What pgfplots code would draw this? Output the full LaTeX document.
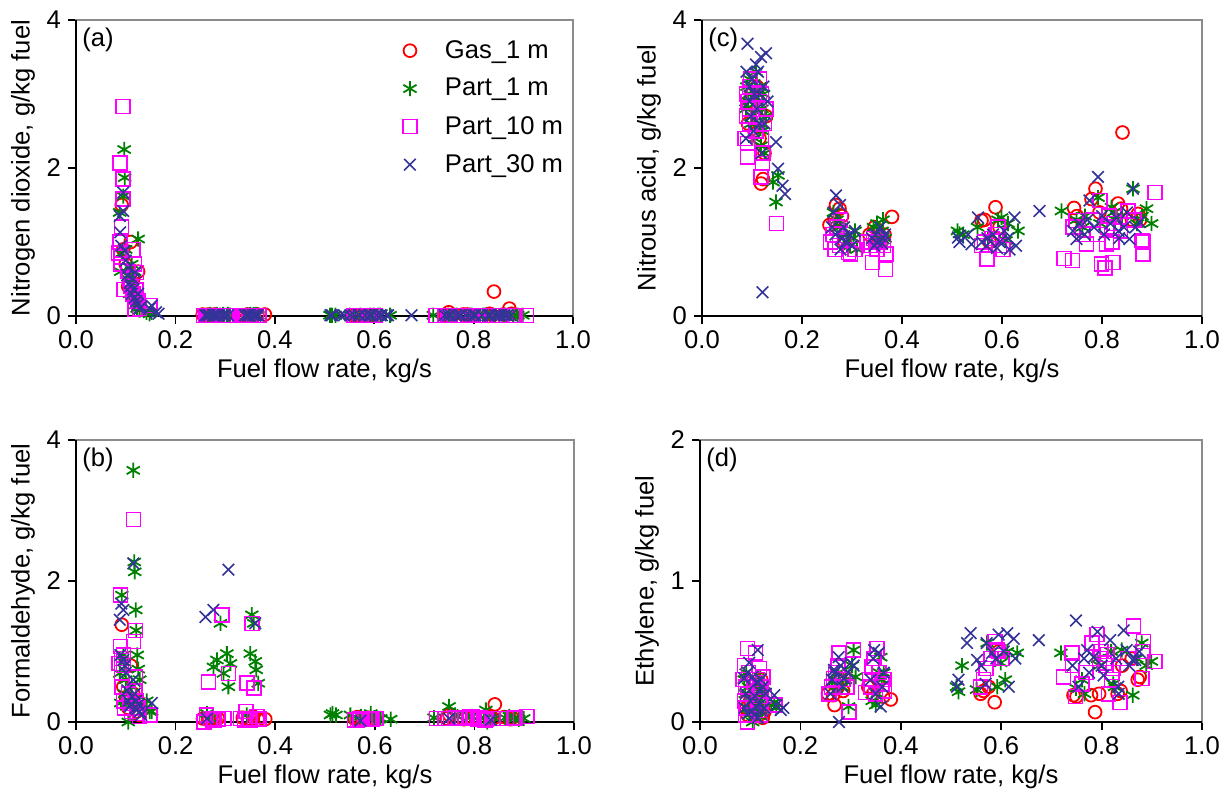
\documentclass[border=0pt]{standalone}
\usepackage{fontspec}
\setmainfont{Liberation Sans}
\usepackage{pgfplots}
\usepackage{pgfplotstable}
\pgfplotsset{compat=1.18}
\definecolor{cgas}{RGB}{255,0,0}
\definecolor{cp1}{RGB}{0,128,0}
\definecolor{cp10}{RGB}{255,0,255}
\definecolor{cp30}{RGB}{51,51,153}
\definecolor{cbox}{RGB}{140,140,140}

% columns: x = fuel flow rate; a = NO2; b = HCHO; c = HONO; d = C2H4
\pgfplotstableread{
x a b c d
0.092 1.50 1.38 2.60 0.10
0.095 0.90 0.50 2.90 0.05
0.100 0.70 0.35 3.00 0.15
0.105 0.40 0.20 2.50 0.08
0.110 1.00 0.80 3.10 0.20
0.115 0.50 0.40 2.40 0.12
0.118 0.30 0.25 1.79 0.05
0.122 0.20 0.15 1.85 0.30
0.125 0.60 0.30 2.20 0.03
0.128 0.15 0.10 2.70 0.07
0.255 0.02 0.05 1.23 0.20
0.265 0.01 0.03 1.30 0.19
0.268 0.02 0.02 1.50 0.12
0.275 0.01 0.04 1.45 0.25
0.280 0.02 0.03 1.35 0.30
0.285 0.01 0.05 1.00 0.22
0.335 0.01 0.06 1.10 0.25
0.345 0.02 0.05 1.20 0.20
0.355 0.01 0.08 1.00 0.30
0.365 0.02 0.04 1.10 0.18
0.380 0.02 0.04 1.34 0.16
0.559 0.01 0.05 1.29 0.20
0.565 0.01 0.07 1.30 0.22
0.575 0.01 0.04 1.00 0.25
0.587 0.01 0.06 1.47 0.14
0.595 0.01 0.05 1.20 0.50
0.744 0.01 0.05 1.46 0.19
0.750 0.05 0.10 1.35 0.18
0.779 0.02 0.04 1.58 0.19
0.787 0.02 0.05 1.72 0.07
0.795 0.01 0.06 1.40 0.20
0.832 0.03 0.08 1.52 0.20
0.838 0.01 0.05 1.45 0.22
0.841 0.33 0.25 2.48 0.40
0.860 0.02 0.07 1.30 0.45
0.872 0.10 0.04 1.38 0.30
0.876 0.03 0.06 1.30 0.32
}\gasdata

\pgfplotstableread{
x a b c d
0.088 1.40 0.69 2.80 0.30
0.090 0.60 0.27 3.10 0.20
0.092 0.85 1.80 2.90 0.35
0.095 1.62 0.95 3.20 0.10
0.097 2.25 0.85 3.00 0.25
0.098 1.87 0.40 2.60 0.05
0.100 0.90 0.60 2.70 0.18
0.105 0.50 0.00 2.40 0.00
0.108 0.30 0.30 3.30 0.12
0.112 0.70 0.50 2.90 0.28
0.115 0.40 3.57 3.10 0.08
0.117 0.20 2.27 2.60 0.22
0.118 0.60 2.13 2.30 0.15
0.120 0.15 1.59 2.80 0.32
0.121 0.30 1.30 2.50 0.04
0.123 0.10 0.95 3.00 0.20
0.125 1.04 0.75 2.20 0.10
0.128 0.08 0.60 2.70 0.26
0.142 0.05 0.30 1.81 0.12
0.148 0.03 0.15 1.54 0.14
0.152 0.05 0.15 1.90 0.10
0.263 0.01 0.12 1.40 0.28
0.270 0.02 0.05 1.30 0.22
0.276 0.01 0.78 1.20 0.35
0.283 0.02 0.88 1.10 0.25
0.290 0.01 1.40 1.00 0.30
0.296 0.02 0.69 0.95 0.11
0.303 0.01 0.97 1.05 0.40
0.306 0.02 0.50 1.15 0.51
0.310 0.01 0.83 0.90 0.32
0.343 0.01 0.10 1.20 0.15
0.350 0.02 0.97 1.25 0.12
0.353 0.01 1.52 1.10 0.20
0.357 0.02 1.40 1.00 0.35
0.360 0.01 0.86 1.15 0.46
0.362 0.02 0.74 1.30 0.30
0.366 0.01 0.55 1.05 0.35
0.511 0.01 0.10 1.15 0.25
0.515 0.01 0.12 1.11 0.215
0.522 0.01 0.10 1.10 0.40
0.551 0.01 0.10 1.20 0.23
0.572 0.01 0.08 1.05 0.56
0.592 0.01 0.12 1.30 0.25
0.599 0.01 0.06 1.33 0.42
0.608 0.01 0.05 1.02 0.30
0.612 0.01 0.05 1.25 0.50
0.632 0.01 0.04 1.15 0.49
0.719 0.01 0.06 1.42 0.49
0.749 0.01 0.22 1.30 0.24
0.761 0.01 0.10 1.20 0.30
0.766 0.01 0.08 1.35 0.20
0.792 0.01 0.08 1.60 0.45
0.796 0.01 0.08 1.25 0.40
0.819 0.01 0.06 1.47 0.50
0.823 0.01 0.17 1.40 0.27
0.826 0.01 0.00 1.30 0.25
0.840 0.01 0.05 1.35 0.51
0.862 0.01 0.06 1.72 0.19
0.870 0.01 0.08 1.25 0.45
0.880 0.01 0.05 1.35 0.56
0.889 0.01 0.04 1.45 0.40
0.899 0.01 0.05 1.25 0.43
}\ponedata

\pgfplotstableread{
x a b c d
0.086 0.85 0.83 2.40 0.30
0.089 2.07 1.80 2.70 0.15
0.089 1.00 1.07 3.00 0.40
0.091 0.80 0.70 2.15 0.05
0.091 0.70 0.90 2.33 0.25
0.092 1.20 0.50 2.90 0.10
0.095 2.83 0.95 2.60 0.52
0.095 1.85 0.80 3.10 0.20
0.095 1.58 0.30 2.80 0.00
0.097 0.36 0.20 3.20 0.35
0.105 0.60 0.40 3.00 0.12
0.108 0.50 0.26 2.50 0.28
0.111 0.40 0.15 2.70 0.49
0.115 0.90 2.87 2.90 0.30
0.115 0.30 1.14 3.20 0.08
0.118 0.70 0.45 1.88 0.22
0.119 0.09 1.30 2.40 0.38
0.119 0.25 0.64 3.00 0.15
0.121 0.35 0.30 2.06 0.05
0.122 0.59 0.12 2.20 0.25
0.125 0.20 0.20 2.60 0.32
0.128 0.10 0.08 2.80 0.18
0.149 0.14 0.10 1.25 0.12
0.257 0.01 0.00 1.00 0.20
0.262 0.01 0.10 1.10 0.25
0.266 0.01 0.57 0.90 0.31
0.270 0.01 0.05 1.20 0.35
0.275 0.01 0.03 0.95 0.40
0.277 0.01 0.03 1.30 0.49
0.285 0.01 0.04 1.05 0.30
0.293 0.01 1.52 0.86 0.25
0.297 0.01 0.05 0.84 0.07
0.306 0.01 0.69 0.90 0.51
0.330 0.01 0.05 1.00 0.21
0.338 0.01 0.03 0.95 0.30
0.341 0.01 0.15 0.72 0.25
0.343 0.01 0.55 1.05 0.39
0.347 0.01 0.05 1.00 0.45
0.350 0.01 0.03 0.90 0.20
0.353 0.01 1.40 1.05 0.52
0.357 0.01 0.48 1.00 0.35
0.363 0.01 0.08 0.95 0.27
0.367 0.01 0.05 0.63 0.30
0.368 0.01 0.04 0.84 0.22
0.559 0.01 0.03 0.95 0.25
0.565 0.01 0.03 1.00 0.30
0.570 0.01 0.05 0.77 0.38
0.580 0.01 0.04 1.05 0.45
0.588 0.01 0.05 1.10 0.57
0.592 0.01 0.05 1.20 0.51
0.595 0.01 0.04 0.95 0.50
0.602 0.01 0.05 0.90 0.45
0.724 0.01 0.05 0.78 0.32
0.741 0.01 0.05 0.75 0.49
0.742 0.01 0.05 1.20 0.40
0.748 0.01 0.05 1.29 0.18
0.761 0.01 0.06 1.10 0.27
0.769 0.01 0.05 0.97 0.35
0.781 0.01 0.06 1.30 0.56
0.791 0.01 0.08 1.10 0.62
0.796 0.01 0.08 1.56 0.45
0.799 0.01 0.05 0.70 0.50
0.806 0.01 0.04 0.65 0.42
0.809 0.01 0.05 0.97 0.40
0.811 0.01 0.06 1.20 0.48
0.814 0.01 0.05 1.35 0.20
0.820 0.01 0.03 1.00 0.30
0.822 0.01 0.03 0.72 0.35
0.824 0.01 0.04 1.25 0.38
0.837 0.01 0.05 1.15 0.14
0.852 0.01 0.05 1.42 0.45
0.864 0.01 0.05 1.30 0.68
0.880 0.01 0.05 1.02 0.31
0.882 0.01 0.06 0.84 0.50
0.883 0.01 0.05 1.00 0.57
0.906 0.01 0.08 1.67 0.43
}\ptendata

\pgfplotstableread{
x a b c d
0.088 1.35 1.45 2.40 0.31
0.089 1.13 0.95 3.30 0.10
0.091 0.95 1.68 3.68 0.20
0.095 1.67 1.59 2.90 0.06
0.095 1.42 0.88 3.10 0.35
0.098 0.88 0.80 2.70 0.42
0.100 0.75 0.70 3.20 0.15
0.103 0.55 0.45 2.50 0.08
0.105 0.65 0.30 3.00 0.32
0.108 0.45 0.22 3.40 0.05
0.110 0.40 0.25 2.80 0.18
0.112 0.30 0.36 3.30 0.28
0.115 0.36 2.25 3.00 0.51
0.115 0.50 0.60 2.60 0.03
0.118 0.25 0.40 3.50 0.22
0.119 0.59 0.20 2.20 0.12
0.121 0.20 0.30 0.32 0.30
0.123 0.15 0.18 3.10 0.08
0.125 0.30 0.25 2.60 0.25
0.128 0.10 0.15 3.55 0.10
0.131 0.12 0.10 2.90 0.20
0.148 0.10 nan 2.35 0.19
0.152 0.14 0.27 1.99 0.12
0.161 0.05 nan 1.76 0.085
0.166 0.03 nan 1.65 0.10
0.260 0.01 1.49 1.20 0.20
0.263 0.01 0.05 1.40 0.30
0.267 0.01 nan 1.10 0.37
0.268 0.01 nan 1.63 0.35
0.276 0.01 1.59 1.50 0.46
0.277 0.01 nan 0.90 0.00
0.280 0.01 nan 1.05 0.40
0.284 0.01 nan 1.20 0.25
0.287 0.01 nan 1.00 0.31
0.295 0.01 nan 1.10 0.35
0.300 0.01 nan 0.95 0.42
0.306 0.01 2.16 1.15 0.40
0.340 0.01 nan 1.05 0.30
0.345 0.01 nan 0.95 0.45
0.347 0.01 nan 1.10 0.51
0.350 0.01 nan 1.00 0.20
0.356 0.01 nan 1.20 0.49
0.360 0.01 1.40 0.98 0.11
0.363 0.01 nan 1.05 0.25
0.366 0.01 nan 1.10 0.35
0.512 0.01 nan 1.06 0.25
0.515 0.01 nan 1.00 0.30
0.532 0.01 nan 1.10 0.56
0.539 0.01 nan 0.97 0.63
0.552 0.01 nan 1.33 0.44
0.560 0.01 nan 1.00 0.40
0.569 0.01 nan 0.95 0.27
0.571 0.01 0.02 1.05 0.56
0.582 0.01 nan 1.10 0.49
0.590 0.01 nan 0.92 0.45
0.595 0.01 nan 1.00 0.62
0.605 0.01 nan 1.15 0.50
0.612 0.01 nan 1.05 0.63
0.615 0.01 nan 0.90 0.25
0.625 0.01 nan 1.33 0.59
0.628 0.01 nan 0.95 0.45
0.675 0.01 nan 1.42 0.58
0.742 0.01 nan 1.15 0.40
0.749 0.01 0.05 1.04 0.72
0.754 0.01 nan 1.25 0.25
0.765 0.01 nan 1.10 0.45
0.771 0.01 nan 1.30 0.51
0.775 0.01 nan 1.56 0.35
0.784 0.01 nan 1.20 0.46
0.792 0.01 nan 1.88 0.64
0.800 0.01 nan 1.35 0.40
0.804 0.01 nan 1.10 0.33
0.817 0.01 nan 1.25 0.58
0.829 0.01 nan 1.33 0.45
0.833 0.01 0.03 1.15 0.25
0.834 0.01 nan 1.05 0.20
0.844 0.01 nan 1.20 0.65
0.850 0.01 nan 1.40 0.51
0.855 0.01 nan 1.04 0.40
0.862 0.01 nan 1.72 0.44
0.867 0.01 nan 1.20 0.44
0.875 0.01 nan 1.27 0.50
}\pthirtydata

\pgfplotsset{
  panel/.style={
    scale only axis,
    clip=false,
    xmin=0, xmax=1,
    xtick={0,0.2,0.4,0.6,0.8,1},
    xticklabels={0.0,0.2,0.4,0.6,0.8,1.0},
    axis line style={cbox, line width=0.7pt},
    tick pos=left,
    tick align=outside,
    major tick length=4pt,
    tick style={black, line width=0.9pt},
    /pgf/number format/assume math mode=true,
    tick label style={font=\fontsize{12.8}{15}\selectfont},
    label style={font=\fontsize{12.8}{15}\selectfont},
    xlabel={Fuel flow rate, kg/s},
    xlabel style={yshift=2pt},
    ylabel style={yshift=-1pt},
  },
  sgas/.style={only marks, mark=o, mark size=3.2pt, draw=cgas, mark options={draw=cgas, fill=none, line width=0.9pt}},
  sp1/.style={only marks, mark=asterisk, mark size=3.8pt, draw=cp1, mark options={draw=cp1, line width=0.9pt}},
  sp10/.style={only marks, mark=square, mark size=3.5pt, draw=cp10, mark options={draw=cp10, fill=none, line width=0.75pt}},
  sp30/.style={only marks, mark=x, mark size=4.1pt, draw=cp30, mark options={draw=cp30, line width=0.8pt}},
}
\newcommand{\blackframe}{\draw[black, line width=1pt] (rel axis cs:0,1) -- (rel axis cs:0,0) -- (rel axis cs:1,0);}

\begin{document}
\begin{tikzpicture}
\path[use as bounding box] (0,0) rectangle (614pt,400pt);

% (a)
\begin{axis}[panel, at={(38pt,242pt)}, anchor=south west,
  width=248.5pt, height=148pt,
  ymin=0, ymax=4, ytick={0,2,4}, yticklabels={0,2,4},
  ylabel={Nitrogen dioxide, g/kg fuel},
  legend style={draw=none, fill=none, at={(0.645,0.96)}, anchor=north west,
    font=\fontsize{12.8}{15}\selectfont, row sep=4.6pt, column sep=12pt},
  legend cell align=left]
\addplot[sgas] table[x=x,y=a]{\gasdata};
\addplot[sp1] table[x=x,y=a]{\ponedata};
\addplot[sp10] table[x=x,y=a]{\ptendata};
\addplot[sp30] table[x=x,y=a]{\pthirtydata};
\legend{Gas\_1 m, Part\_1 m, Part\_10 m, Part\_30 m}
\blackframe
\node[anchor=north west, inner sep=0pt, font=\fontsize{12.8}{15}\selectfont] at ([xshift=3pt,yshift=-4pt]rel axis cs:0,1) {(a)};
\end{axis}

% (c)
\begin{axis}[panel, at={(351pt,242pt)}, anchor=south west,
  width=250pt, height=148pt,
  ymin=0, ymax=4, ytick={0,2,4}, yticklabels={0,2,4},
  ylabel={Nitrous acid, g/kg fuel}]
\addplot[sgas] table[x=x,y=c]{\gasdata};
\addplot[sp1] table[x=x,y=c]{\ponedata};
\addplot[sp10] table[x=x,y=c]{\ptendata};
\addplot[sp30] table[x=x,y=c]{\pthirtydata};
\blackframe
\node[anchor=north west, inner sep=0pt, font=\fontsize{12.8}{15}\selectfont] at ([xshift=3pt,yshift=-4pt]rel axis cs:0,1) {(c)};
\end{axis}

% (b)
\begin{axis}[panel, at={(38pt,39pt)}, anchor=south west,
  width=249pt, height=141pt,
  ymin=0, ymax=4, ytick={0,2,4}, yticklabels={0,2,4},
  ylabel={Formaldehyde, g/kg fuel}]
\addplot[sgas] table[x=x,y=b]{\gasdata};
\addplot[sp1] table[x=x,y=b]{\ponedata};
\addplot[sp10] table[x=x,y=b]{\ptendata};
\addplot[sp30] table[x=x,y=b]{\pthirtydata};
\blackframe
\node[anchor=north west, inner sep=0pt, font=\fontsize{12.8}{15}\selectfont] at ([xshift=3pt,yshift=-4pt]rel axis cs:0,1) {(b)};
\end{axis}

% (d)
\begin{axis}[panel, at={(350pt,39pt)}, anchor=south west,
  width=251pt, height=141pt,
  ymin=0, ymax=2, ytick={0,1,2}, yticklabels={0,1,2},
  ylabel={Ethylene, g/kg fuel}]
\addplot[sgas] table[x=x,y=d]{\gasdata};
\addplot[sp1] table[x=x,y=d]{\ponedata};
\addplot[sp10] table[x=x,y=d]{\ptendata};
\addplot[sp30] table[x=x,y=d]{\pthirtydata};
\blackframe
\node[anchor=north west, inner sep=0pt, font=\fontsize{12.8}{15}\selectfont] at ([xshift=3pt,yshift=-4pt]rel axis cs:0,1) {(d)};
\end{axis}
\end{tikzpicture}
\end{document}
